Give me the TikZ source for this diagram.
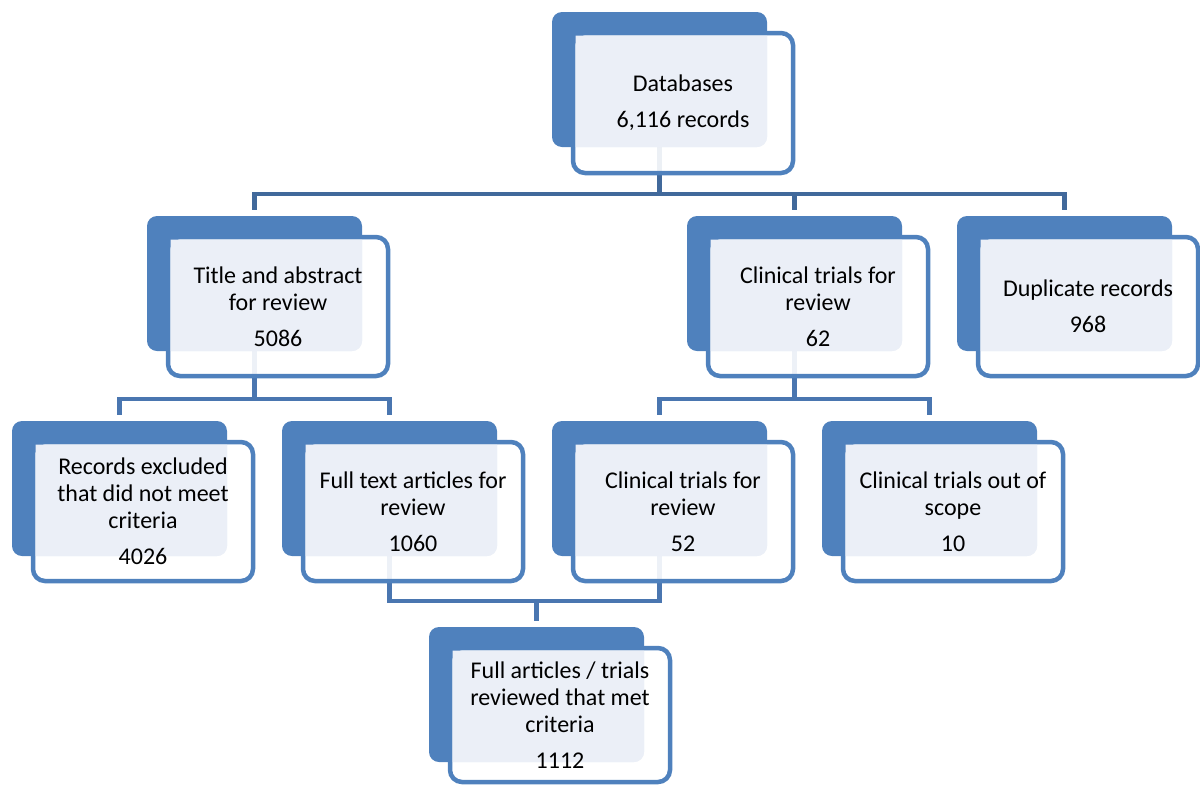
\documentclass[tikz,border=0pt]{standalone}
\usepackage{fontspec}
\setmainfont{Carlito}
\usepackage{tikz}
\usetikzlibrary{positioning}
\pgfdeclarelayer{background}
\pgfsetlayers{background,main}

\definecolor{accent}{HTML}{4F81BD}
\definecolor{linkdark}{HTML}{41699B}
\definecolor{linkblue}{HTML}{4A76B0}
\definecolor{panelfill}{HTML}{EBEFF7}

\tikzset{
  back/.style={rectangle, fill=accent, rounded corners=10, inner sep=0,
    minimum width=215, minimum height=135},
  card/.style={rectangle, draw=accent, line width=4.5, fill=white, fill opacity=0.9,
    rounded corners=12, inner sep=0, minimum width=220},
  panel/.style={fill=panelfill},
  label/.style={align=center, inner sep=0, text=black},
  link/.style={draw=linkblue, line width=4.5, shorten >=6},
}

\begin{document}
\begin{tikzpicture}[x=1pt, y=-1pt, font=\fontsize{24}{27}\selectfont]
  \useasboundingbox (0,0) rectangle (1200,785);
  % boxes: name / left / top / card height / text
  \foreach \n/\x/\y/\h/\t in {
      db/552/12/140/{Databases\\[9pt]6,116 records},
      ta/147/216/139/{Title and abstract\\for review\\[9pt]5086},
      ct/687/216/139/{Clinical trials for\\review\\[9pt]62},
      dup/957/216/139/{Duplicate records\\[9pt]968},
      rex/12/421/139/{Records excluded\\that did not meet\\criteria\\[9pt]4026},
      ft/282/421/139/{Full text articles for\\review\\[9pt]1060},
      ct2/552/421/139/{Clinical trials for\\review\\[9pt]52},
      cto/822/421/139/{Clinical trials out of\\scope\\[9pt]10},
      fa/429/627/134/{Full articles / trials\\reviewed that met\\criteria\\[9pt]1112}} {
    \node[back] (\n-b) at (\x+107.5,\y+67.5) {};
    \node[card, minimum height=\h] (\n) at (\x+131,\y+21+\h/2) {};
    \fill[panel] (\x+215,\y+23.5) [rounded corners=10] -- (\x+215,\y+135)
      [sharp corners] -- (\x+23.5,\y+135) -- (\x+23.5,\y+23.5) -- cycle;
    \node[label] (\n-t) at (\n) {\t};
  }
  % connectors
  \begin{pgfonlayer}{background}
    \foreach \c in {ta,ct,dup}
      \draw[link, draw=linkdark] (db-b.south) -- ++(0,47) -| (\c-b.north);
    \foreach \c in {rex,ft}
      \draw[link] (ta-b.south) -- ++(0,48) -| (\c-b.north);
    \foreach \c in {ct2,cto}
      \draw[link] (ct-b.south) -- ++(0,48) -| (\c-b.north);
    \foreach \c in {ft,ct2}
      \draw[link] (\c-b.south) -- ++(0,45) -| (fa-b.north);
  \end{pgfonlayer}
\end{tikzpicture}
\end{document}
